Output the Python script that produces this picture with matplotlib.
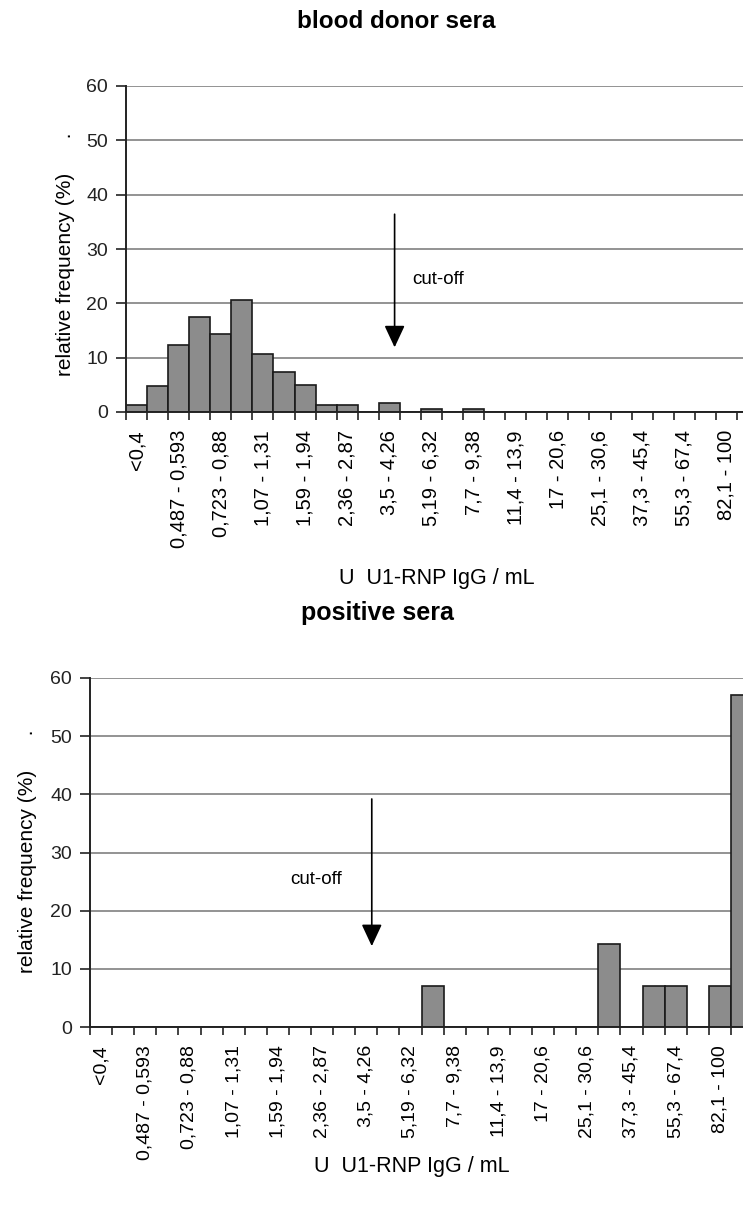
import numpy as np
import matplotlib
matplotlib.use("Agg")
import matplotlib.pyplot as plt

plt.rcParams['font.family'] = ['Liberation Sans', 'DejaVu Sans']

# bins of U U1-RNP IgG / mL
bins = ["<0,4", "0,4 - 0,487", "0,487 - 0,593", "0,593 - 0,723", "0,723 - 0,88",
        "0,88 - 1,07", "1,07 - 1,31", "1,31 - 1,59", "1,59 - 1,94", "1,94 - 2,36",
        "2,36 - 2,87", "2,87 - 3,5", "3,5 - 4,26", "4,26 - 5,19", "5,19 - 6,32",
        "6,32 - 7,7", "7,7 - 9,38", "9,38 - 11,4", "11,4 - 13,9", "13,9 - 17",
        "17 - 20,6", "20,6 - 25,1", "25,1 - 30,6", "30,6 - 37,3", "37,3 - 45,4",
        "45,4 - 55,3", "55,3 - 67,4", "67,4 - 82,1", "82,1 - 100", ">100"]

# relative frequency (%) per bin
donor = [1.2, 4.8, 12.4, 17.4, 14.4, 20.6, 10.7, 7.3, 4.9, 1.2,
         1.2, 0, 1.7, 0, 0.5, 0, 0.5, 0, 0, 0,
         0, 0, 0, 0, 0, 0, 0, 0, 0, 0]
positive = [0, 0, 0, 0, 0, 0, 0, 0, 0, 0,
            0, 0, 0, 0, 0, 7.1, 0, 0, 0, 0,
            0, 0, 0, 14.3, 0, 7.1, 7.1, 0, 7.1, 57.1]

cutoff_bin = 12.25
yticks = [0, 10, 20, 30, 40, 50, 60]

W, H = 743, 1207
fig = plt.figure(figsize=(W / 100, H / 100), dpi=100)


def px_axes(left, top, right, bottom):
    return fig.add_axes([left / W, 1 - bottom / H, (right - left) / W, (bottom - top) / H])


def draw(ax, values, arrow_top, arrow_tip, text_xy, ylab_xy, xlab_xy, xfs):
    x = np.arange(len(values))
    ax.bar(x, values, width=1.0, color='#8c8c8c', edgecolor='#1a1a1a', linewidth=1.2, zorder=3)
    ax.set_xlim(-0.5, len(values) - 0.5)
    ax.set_ylim(0, 60)
    ax.set_yticks(yticks)
    ax.grid(axis='y', color='#8a8a8a', linewidth=1.3, zorder=0)
    for s in ['top', 'right']:
        ax.spines[s].set_visible(False)
    for s in ['left', 'bottom']:
        ax.spines[s].set_linewidth(1.4)
        ax.spines[s].set_color('#222222')
        ax.spines[s].set_zorder(4)
    ax.tick_params(axis='y', length=7, width=1.2, pad=6, labelsize=14, colors='#222222')
    # boundary ticks without labels, labels at every other bin centre
    ax.set_xticks(np.arange(-0.5, len(values), 1.0))
    ax.set_xticklabels([])
    ax.set_xticks(x[::2], minor=True)
    ax.set_xticklabels(bins[::2], minor=True, rotation=90, fontsize=xfs)
    ax.tick_params(axis='x', which='major', length=6, width=1.2, colors='#222222')
    ax.tick_params(axis='x', which='minor', length=0, pad=13)

    ax.annotate('', xy=(cutoff_bin, arrow_tip), xytext=(cutoff_bin, arrow_top),
                arrowprops=dict(arrowstyle='-|>,head_length=0.75,head_width=0.35',
                                color='black', lw=1.2, shrinkA=0, shrinkB=0,
                                mutation_scale=18), zorder=5)
    ax.text(text_xy[0], text_xy[1], 'cut-off', fontsize=13.5, ha='left', va='center', zorder=5)

    ax.set_ylabel('relative frequency (%)' + ' ' * 6 + '.', fontsize=15, va='center')
    ax.yaxis.set_label_coords(*ylab_xy)
    ax.set_xlabel('U  U1-RNP IgG / mL', fontsize=15.5, va='center')
    ax.xaxis.set_label_coords(*xlab_xy)


ax1 = px_axes(126, 86, 758, 412)
draw(ax1, donor, 36.4, 11.9, (13.1, 24.3), (-0.095, 0.485), (0.492, -0.512), 14.5)

ax2 = px_axes(90, 678, 753, 1027)
draw(ax2, positive, 39.2, 13.9, (8.55, 25.3), (-0.095, 0.504), (0.486, -0.40), 14)

fig.text(396 / W, 1 - 28 / H, 'blood donor sera', fontsize=17.5, fontweight='bold',
         ha='center', va='baseline')
fig.text(377 / W, 1 - 620 / H, 'positive sera', fontsize=18, fontweight='bold',
         ha='center', va='baseline')

fig.savefig('out.png', dpi=100)
